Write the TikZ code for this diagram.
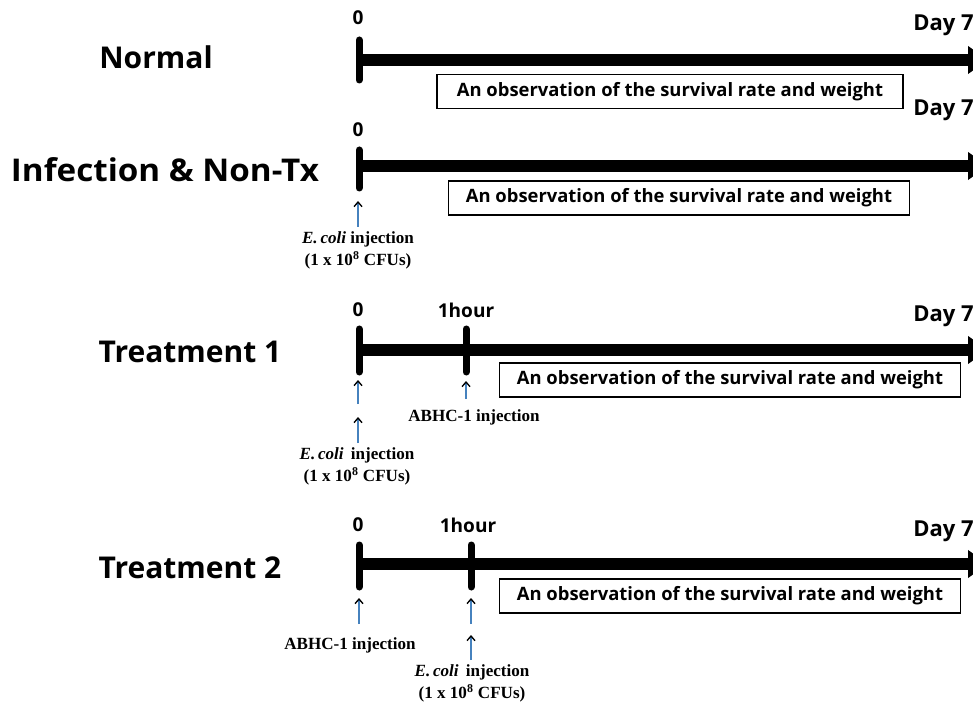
\documentclass[tikz,border=0pt]{standalone}
\usepackage{fontspec}
\setmainfont{Open Sans}
\newfontfamily\serifbold{Liberation Serif}
\usetikzlibrary{arrows.meta}
\definecolor{arrowblue}{RGB}{70,130,190}
\tikzset{
  rowlabel/.style={font=\fontsize{22.5}{26}\selectfont\bfseries, inner sep=0pt},
  timelabel/.style={font=\fontsize{14.3}{16}\selectfont\bfseries, inner sep=0pt},
  daylabel/.style={font=\fontsize{16.5}{18}\selectfont\bfseries, inner sep=0pt, anchor=west},
  obsbox/.style={draw=black, line width=1pt, minimum width=346pt, minimum height=25.5pt, inner sep=0pt,
    font=\fontsize{13.8}{15}\selectfont\bfseries},
  injlabel/.style={font=\serifbold\fontsize{12.8}{16.5}\selectfont\bfseries, inner sep=0pt, align=center},
  mainline/.style={line width=9pt, -{Triangle[length=15pt,width=20pt]}},
  tickline/.style={line width=5.25pt, line cap=round},
  injarrow/.style={draw=arrowblue, line width=1.1pt, -{Straight Barb[black,length=3.5pt,width=6pt,line width=1pt]}}
}
\begin{document}
\begin{tikzpicture}[x=0.75pt,y=-0.75pt]
\useasboundingbox (0,0) rectangle (973,705);
% ---------- Row 1: Normal
\node[rowlabel] (n1) at (156,57) {Normal};
\coordinate (t1a) at (359,40); \coordinate (t1b) at (359,80);
\draw[tickline] (t1a) -- (t1b);
\coordinate (s1) at (359,60); \coordinate (e1) at (988,60);
\draw[mainline] (s1) -- (e1);
\node[timelabel] (z1) at (358,18) {0};
\node[daylabel] (d1) at (913,25) {Day 7};
\node[obsbox, minimum width=349.5pt] (b1) at (670,91.5) {An observation of the survival rate and weight};
% ---------- Row 2: Infection & Non-Tx
\node[rowlabel, font=\fontsize{23.5}{26}\selectfont\bfseries] (n2) at (165,170) {\scalebox{1.06}[1]{Infection \& Non-Tx}};
\coordinate (t2a) at (359,150); \coordinate (t2b) at (359,188);
\draw[tickline] (t2a) -- (t2b);
\coordinate (s2) at (359,166); \coordinate (e2) at (988,166);
\draw[mainline] (s2) -- (e2);
\node[timelabel] (z2) at (358,130) {0};
\node[daylabel] (d2) at (913,110) {Day 7};
\node[obsbox] (b2) at (679,198) {An observation of the survival rate and weight};
\node[injlabel] (i2) at (358,250) {\textit{E.\,coli} injection\\(1 x 10\textsuperscript{8} CFUs)};
\coordinate (a2) at (358,201);
\draw[injarrow] (i2.north -| a2) ++(0,-4) -- (a2);
% ---------- Row 3: Treatment 1
\node[rowlabel] (n3) at (190,352) {Treatment 1};
\coordinate (t3a) at (359,329); \coordinate (t3b) at (359,372);
\draw[tickline] (t3a) -- (t3b);
\coordinate (u3a) at (466,329); \coordinate (u3b) at (466,372);
\draw[tickline] (u3a) -- (u3b);
\coordinate (s3) at (359,350); \coordinate (e3) at (988,350);
\draw[mainline] (s3) -- (e3);
\node[timelabel] (z3) at (358,310) {0};
\node[timelabel] (h3) at (466,310) {1hour};
\node[daylabel] (d3) at (913,316) {Day 7};
\node[obsbox] (b3) at (730,380) {An observation of the survival rate and weight};
\coordinate (a3a) at (358,380); \coordinate (a3ab) at (358,404);
\draw[injarrow] (a3ab) -- (a3a);
\node[injlabel] (i3) at (474,417) {ABHC-1 injection};
\coordinate (a3c) at (466,381); \coordinate (a3cb) at (466,399);
\draw[injarrow] (a3cb) -- (a3c);
\node[injlabel] (i3b) at (357,466) {\textit{E.\,coli} \,injection\\(1 x 10\textsuperscript{8} CFUs)};
\coordinate (a3b) at (358,417); \coordinate (a3bb) at (358,443);
\draw[injarrow] (a3bb) -- (a3b);
% ---------- Row 4: Treatment 2
\node[rowlabel] (n4) at (190,568) {Treatment 2};
\coordinate (t4a) at (359,545); \coordinate (t4b) at (359,587);
\draw[tickline] (t4a) -- (t4b);
\coordinate (u4a) at (471,545); \coordinate (u4b) at (471,587);
\draw[tickline] (u4a) -- (u4b);
\coordinate (s4) at (359,564); \coordinate (e4) at (988,564);
\draw[mainline] (s4) -- (e4);
\node[timelabel] (z4) at (358,525) {0};
\node[timelabel] (h4) at (468,525) {1hour};
\node[daylabel] (d4) at (913,531) {Day 7};
\node[obsbox] (b4) at (730,596) {An observation of the survival rate and weight};
\node[injlabel] (i4) at (350,645) {ABHC-1 injection};
\coordinate (a4a) at (359,598); \coordinate (a4ab) at (359,624);
\draw[injarrow] (a4ab) -- (a4a);
\coordinate (a4b) at (471,598); \coordinate (a4bb) at (471,624);
\draw[injarrow] (a4bb) -- (a4b);
\coordinate (a4c) at (471,635); \coordinate (a4cb) at (471,660);
\draw[injarrow] (a4cb) -- (a4c);
\node[injlabel] (i4b) at (472,683) {\textit{E.\,coli} \,injection\\(1 x 10\textsuperscript{8} CFUs)};
\end{tikzpicture}
\end{document}
